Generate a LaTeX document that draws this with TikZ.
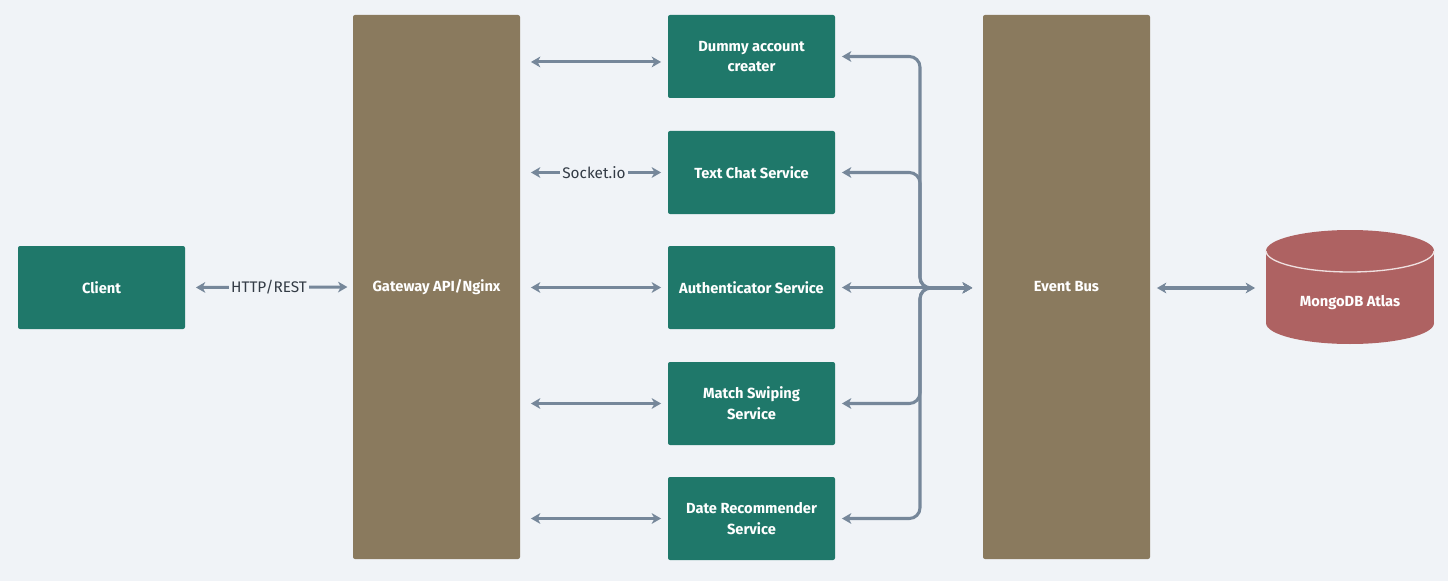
\documentclass[tikz,border=0pt]{standalone}
\usepackage{fontspec}
\setmainfont{Fira Sans}
\usetikzlibrary{arrows.meta}
\definecolor{bg}{HTML}{F0F3F7}
\definecolor{teal}{HTML}{1F786A}
\definecolor{brownbox}{HTML}{8A7A5E}
\definecolor{dbred}{HTML}{AE6262}
\definecolor{arrowc}{HTML}{76879A}
\definecolor{labelc}{HTML}{333B45}
\tikzset{
  boxfont/.style={font=\bfseries\fontsize{11}{15.5}\selectfont},
  svc/.style={fill=teal, rounded corners=1.5pt, minimum width=125.25pt, minimum height=62.25pt, text=white, boxfont, align=center, inner sep=0pt},
  tall/.style={fill=brownbox, rounded corners=1.5pt, minimum width=125.25pt, minimum height=408pt, text=white, boxfont, inner sep=0pt},
  conn/.style={draw=arrowc, line width=2.3pt, {Stealth[length=7pt,width=8pt,inset=2pt]}-{Stealth[length=7pt,width=8pt,inset=2pt]}},
  lconn/.style={draw=arrowc, line width=2.3pt, rounded corners=8pt, {Stealth[length=7pt,width=8pt,inset=2pt]}-{Stealth[length=7pt,width=8pt,inset=2pt]}},
  lbl/.style={fill=bg, text=labelc, font=\fontsize{11.5}{14}\selectfont, inner sep=1.5pt},
}
\begin{document}
\begin{tikzpicture}[x=0.75pt,y=-0.75pt]
\fill[bg] (0,0) rectangle (1448,581);
\useasboundingbox (0,0) rectangle (1448,581);

\node[svc] (client) at (101.5,287.5) {Client};
\node[tall] (gw) at (436.5,287) {Gateway API/Nginx};
\node[svc] (dummy) at (751.5,56.5) {Dummy account\\creater};
\node[svc] (chat) at (751.5,172.5) {Text Chat Service};
\node[svc] (auth) at (751.5,287.5) {Authenticator Service};
\node[svc] (match) at (751.5,403.5) {Match Swiping\\Service};
\node[svc] (date) at (751.5,518.5) {Date Recommender\\Service};
\node[tall] (bus) at (1066.5,287) {Event Bus};

% MongoDB cylinder
\node[minimum width=126pt, minimum height=86pt, inner sep=0pt] (mongo) at (1350,287.5) {};
\fill[dbred] (1266,251) rectangle (1434,323);
\fill[dbred] (1350,323) ellipse[x radius=84, y radius=21];
\fill[dbred] (1350,251) ellipse[x radius=84, y radius=21];
\draw[white!80!dbred, line width=1pt] (1266,251) arc[start angle=180, end angle=0, x radius=84, y radius=21];
\node[text=white, boxfont] (mongolbl) at (1350,303) {MongoDB Atlas};

% client <-> gateway
\draw[conn, shorten <=8pt, shorten >=4pt] (client.east) -- node[lbl] {HTTP/REST} (gw.west);

% gateway <-> services
\coordinate (dummyin) at ([yshift=-4.1pt]dummy.west);
\draw[conn, shorten <=8pt, shorten >=5pt] (gw.east |- dummyin) -- (dummyin);
\draw[conn, shorten <=8pt, shorten >=5pt] (gw.east |- chat.west) -- node[lbl] {Socket.io} (chat.west);
\draw[conn, shorten <=8pt, shorten >=5pt] (gw.east |- auth.west) -- (auth.west);
\draw[conn, shorten <=8pt, shorten >=5pt] (gw.east |- match.west) -- (match.west);
\draw[conn, shorten <=8pt, shorten >=5pt] (gw.east |- date.west) -- (date.west);

% services <-> event bus
\coordinate (trunk) at (920,288);
\draw[lconn, shorten <=5pt, shorten >=8pt] (dummy.east) -| (trunk) -- (bus.west |- trunk);
\draw[lconn, shorten <=5pt, shorten >=8pt] (chat.east) -| (trunk) -- (bus.west |- trunk);
\draw[lconn, shorten <=5pt, shorten >=8pt] (match.east) -| (trunk) -- (bus.west |- trunk);
\draw[lconn, shorten <=5pt, shorten >=8pt] (date.east) -| (trunk) -- (bus.west |- trunk);
\draw[conn, shorten <=5pt, shorten >=8pt] (auth.east) -- (bus.west |- auth.east);

% event bus <-> mongo
\draw[conn, shorten <=5pt, shorten >=8pt] (bus.east |- trunk) -- (mongo.west |- trunk);
\end{tikzpicture}
\end{document}
